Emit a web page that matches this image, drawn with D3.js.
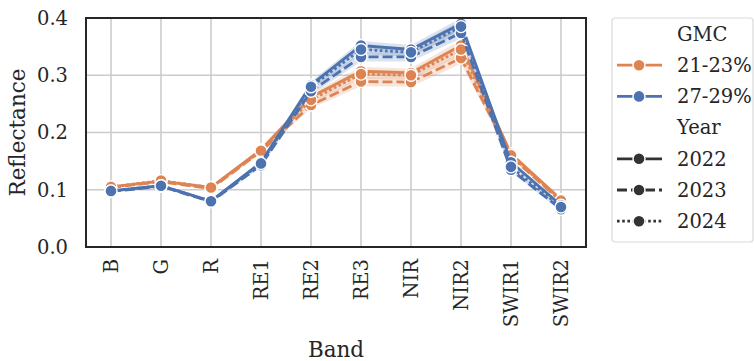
<!DOCTYPE html>
<html>
<head>
<meta charset="utf-8">
<script src="https://cdn.jsdelivr.net/npm/d3@7"></script>
<style>
  body { margin: 0; background: #fff; }
  text { font-family: "DejaVu Serif", serif; fill: #262626; }
</style>
</head>
<body>
<div id="chart"></div>
<script>
// bands on the x axis
var bands = ["B", "G", "R", "RE1", "RE2", "RE3", "NIR", "NIR2", "SWIR1", "SWIR2"];
var yTicks = [0.0, 0.1, 0.2, 0.3, 0.4];

// mean reflectance, GMC 21-23%
var low2022 = [0.105, 0.115, 0.104, 0.170, 0.262, 0.307, 0.304, 0.352, 0.163, 0.083];
var low2023 = [0.104, 0.114, 0.102, 0.167, 0.248, 0.289, 0.288, 0.330, 0.158, 0.080];
var low2024 = [0.105, 0.116, 0.104, 0.168, 0.257, 0.302, 0.300, 0.345, 0.160, 0.081];
// mean reflectance, GMC 27-29%
var high2022 = [0.098, 0.107, 0.080, 0.148, 0.283, 0.352, 0.345, 0.390, 0.148, 0.073];
var high2023 = [0.097, 0.106, 0.079, 0.143, 0.272, 0.332, 0.332, 0.374, 0.135, 0.066];
var high2024 = [0.098, 0.107, 0.080, 0.146, 0.280, 0.345, 0.340, 0.385, 0.140, 0.070];
// half width of the confidence band per band
var ciHalf = [0.002, 0.002, 0.002, 0.003, 0.006, 0.008, 0.008, 0.010, 0.004, 0.003];

var gmcLabels = ["21-23%", "27-29%"];
var yearLabels = ["2022", "2023", "2024"];
var colors = {"21-23%": "#dd8452", "27-29%": "#4c72b0"};
var dashes = {"2022": null, "2023": "10,4", "2024": "2.6,2.6"};

var series = [
    {gmc: "21-23%", year: "2022", values: low2022},
    {gmc: "21-23%", year: "2023", values: low2023},
    {gmc: "21-23%", year: "2024", values: low2024},
    {gmc: "27-29%", year: "2022", values: high2022},
    {gmc: "27-29%", year: "2023", values: high2023},
    {gmc: "27-29%", year: "2024", values: high2024}
];

var W = 754, H = 361;
var margin = {top: 18, left: 86, right: 168, bottom: 114};
var w = W - margin.left - margin.right,
    h = H - margin.top - margin.bottom;

var svg = d3.select("#chart").append("svg")
    .attr("width", W)
    .attr("height", H);

var g = svg.append("g")
    .attr("transform", "translate(" + margin.left + "," + margin.top + ")");

var x = d3.scalePoint().domain(bands).range([0, w]).padding(0.5);
var y = d3.scaleLinear().domain([0, 0.4]).range([h, 0]);

// grid
g.append("g").selectAll("line").data(yTicks).enter().append("line")
    .attr("x1", 0).attr("x2", w)
    .attr("y1", function (d) { return y(d); })
    .attr("y2", function (d) { return y(d); })
    .attr("stroke", "#cccccc").attr("stroke-width", 1.6);
g.append("g").selectAll("line").data(bands).enter().append("line")
    .attr("y1", 0).attr("y2", h)
    .attr("x1", function (d) { return x(d); })
    .attr("x2", function (d) { return x(d); })
    .attr("stroke", "#cccccc").attr("stroke-width", 1.6);

// axes (no tick marks)
var yAxis = g.append("g")
    .call(d3.axisLeft(y).tickValues(yTicks).tickFormat(d3.format(".1f")).tickSize(0).tickPadding(18));
yAxis.select(".domain").remove();
yAxis.selectAll("text").style("font-size", "19.5px").style("fill", "#262626");

var xAxis = g.append("g")
    .attr("transform", "translate(0," + h + ")")
    .call(d3.axisBottom(x).tickSize(0));
xAxis.select(".domain").remove();
xAxis.selectAll("text")
    .style("font-size", "19.5px").style("fill", "#262626")
    .attr("transform", "rotate(-90)")
    .attr("x", -12).attr("y", 0).attr("dy", "0.35em")
    .style("text-anchor", "end");

// confidence bands
var area = d3.area()
    .x(function (d, i) { return x(bands[i]); })
    .y0(function (d, i) { return y(d - ciHalf[i]); })
    .y1(function (d, i) { return y(d + ciHalf[i]); });

series.forEach(function (s) {
    g.append("path")
        .attr("d", area(s.values))
        .attr("fill", colors[s.gmc])
        .attr("fill-opacity", 0.2);
});

// lines and markers
var line = d3.line()
    .x(function (d, i) { return x(bands[i]); })
    .y(function (d) { return y(d); });

series.forEach(function (s) {
    g.append("path")
        .attr("d", line(s.values))
        .attr("fill", "none")
        .attr("stroke", colors[s.gmc])
        .attr("stroke-width", 2.8)
        .attr("stroke-dasharray", dashes[s.year]);
    g.append("g").selectAll("circle").data(s.values).enter().append("circle")
        .attr("cx", function (d, i) { return x(bands[i]); })
        .attr("cy", function (d) { return y(d); })
        .attr("r", 6)
        .attr("fill", colors[s.gmc])
        .attr("stroke", "#fff")
        .attr("stroke-width", 1.4);
});

// frame
g.append("rect")
    .attr("width", w).attr("height", h)
    .attr("fill", "none").attr("stroke", "#262626").attr("stroke-width", 2);

// axis titles
svg.append("text")
    .attr("transform", "translate(25," + (margin.top + h / 2) + ") rotate(-90)")
    .attr("text-anchor", "middle")
    .style("font-size", "21.5px")
    .text("Reflectance");
svg.append("text")
    .attr("x", margin.left + w / 2).attr("y", 357)
    .attr("text-anchor", "middle")
    .style("font-size", "21.5px")
    .text("Band");

// legend
var leg = svg.append("g").attr("transform", "translate(612,18)");
leg.append("rect")
    .attr("width", 141).attr("height", 224).attr("rx", 3)
    .attr("fill", "#fff").attr("stroke", "#d9d9d9").attr("stroke-width", 1.2);

var legItems = [{label: "GMC", head: true}]
    .concat(gmcLabels.map(function (d) { return {label: d, color: colors[d], dash: null}; }))
    .concat([{label: "Year", head: true}])
    .concat(yearLabels.map(function (d) { return {label: d, color: "#333333", dash: dashes[d]}; }));

legItems.forEach(function (d, i) {
    var cy = 16 + i * 31.2;
    var row = leg.append("g").attr("transform", "translate(0," + cy + ")");
    if (!d.head) {
        row.append("line")
            .attr("x1", 5).attr("x2", 50)
            .attr("stroke", d.color).attr("stroke-width", 2.8)
            .attr("stroke-dasharray", d.dash);
        row.append("circle")
            .attr("cx", 27).attr("r", 6)
            .attr("fill", d.color).attr("stroke", "#fff").attr("stroke-width", 1.4);
    }
    row.append("text")
        .attr("x", 65).attr("dy", "0.35em")
        .style("font-size", "19.5px")
        .text(d.label);
});
</script>
</body>
</html>
